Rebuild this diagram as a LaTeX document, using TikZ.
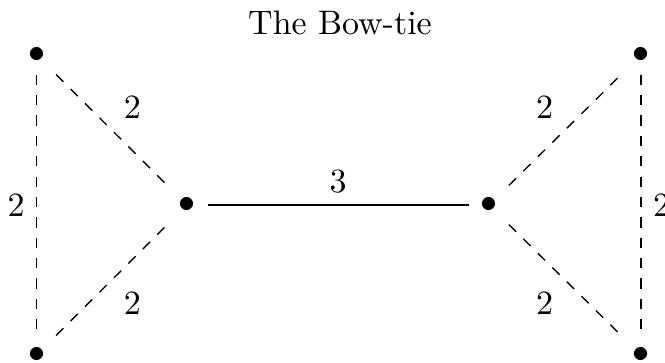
\documentclass[tikz,border=0pt]{standalone}
\usepackage{amsmath,amssymb}
\usetikzlibrary{positioning}

\begin{document}
\begin{tikzpicture}[
    vertex/.style={inner sep=3.33pt},
    link/.style={dashed},
    bridge/.style={}
]
    \useasboundingbox (-1.934,-1.624) rectangle (4.943,2.12);
    \node[anchor=base] (title) at (1.582, 1.768) {The Bow-tie};

    \node[vertex] (a) at (-1.556, 1.551) {$\bullet$};
    \node[vertex] (b) at (-1.556,-1.551) {$\bullet$};
    \node[vertex] (c) at (0, 0) {$\bullet$};
    \node[vertex] (d) at (3.123, 0) {$\bullet$};
    \node[vertex] (e) at (4.695, 1.551) {$\bullet$};
    \node[vertex] (f) at (4.695,-1.551) {$\bullet$};

    \draw[link] (a) -- node[left] {2} (b);
    \draw[link] (a) -- node[above right] {2} (c);
    \draw[link] (b) -- node[below right] {2} (c);
    \draw[bridge] (c) -- node[above] {3} (d);
    \draw[link] (d) -- node[above left] {2} (e);
    \draw[link] (d) -- node[below left] {2} (f);
    \draw[link] (e) -- node[right] {2} (f);
\end{tikzpicture}
\end{document}
